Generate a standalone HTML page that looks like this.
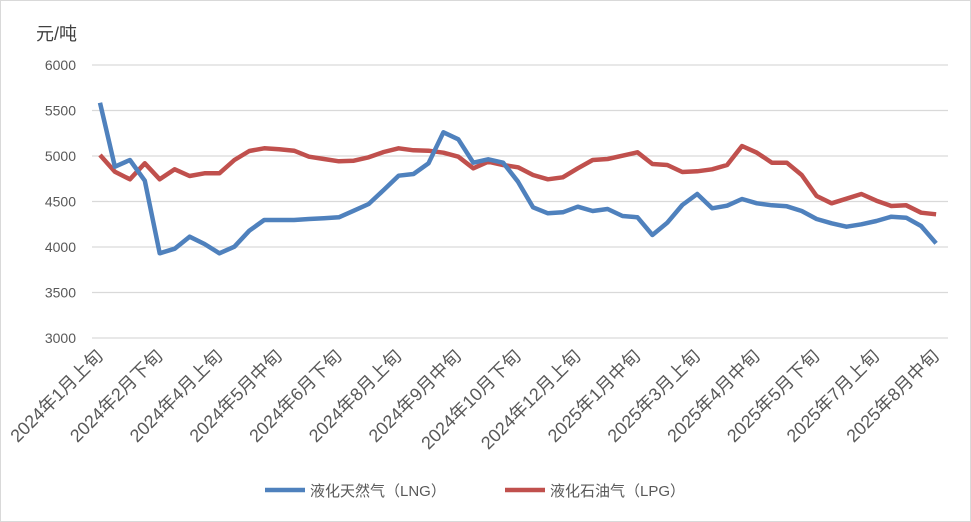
<!DOCTYPE html>
<html><head><meta charset="utf-8"><style>
body{margin:0;background:#fff}
svg{display:block;font-family:"Liberation Sans","Noto Sans CJK SC",sans-serif}
</style></head><body>
<svg width="971" height="522" viewBox="0 0 971 522">
<rect x="0.5" y="0.5" width="970" height="521" fill="#fff" stroke="#d9d9d9"/>
<text x="36" y="40" font-size="18" fill="#404040">元/吨</text>
<g stroke="#d9d9d9" stroke-width="1.3">
<line x1="92" x2="948" y1="65" y2="65"/><line x1="92" x2="948" y1="110.5" y2="110.5"/>
<line x1="92" x2="948" y1="156" y2="156"/><line x1="92" x2="948" y1="201.5" y2="201.5"/>
<line x1="92" x2="948" y1="247" y2="247"/><line x1="92" x2="948" y1="292.5" y2="292.5"/>
<line x1="92" x2="948" y1="338" y2="338"/>
</g>
<g font-size="14" fill="#595959" text-anchor="end">
<text x="76" y="70">6000</text><text x="76" y="115.5">5500</text><text x="76" y="161">5000</text>
<text x="76" y="206.5">4500</text><text x="76" y="252">4000</text><text x="76" y="297.5">3500</text>
<text x="76" y="343">3000</text>
</g>
<g font-size="18" fill="#595959" text-anchor="end" id="xl"></g>
<polyline id="lpg" fill="none" stroke="#c0504d" stroke-width="4.5" stroke-linejoin="round"/>
<polyline id="lng" fill="none" stroke="#4f81bd" stroke-width="4.5" stroke-linejoin="round"/>
<line x1="265" x2="305" y1="490" y2="490" stroke="#4f81bd" stroke-width="4.5"/>
<text x="310" y="496" font-size="15" fill="#595959">液化天然气（LNG）</text>
<line x1="505" x2="545" y1="490" y2="490" stroke="#c0504d" stroke-width="4.5"/>
<text x="550" y="496" font-size="15" fill="#595959">液化石油气（LPG）</text>
</svg>
<script>
var b=[102.7,166.7,160,180.7,253.3,248.7,236.7,244,253.3,246.7,230.7,220,220,220,219,218.3,217.3,210.7,204,190,175.7,174,163.3,132.3,139.3,162.7,159.3,162.7,181.7,207.3,213.3,212.3,206.7,211,209,216,217.3,235,222.7,205,194,208.3,205.7,199,203.3,205.3,206.3,211,219,223.3,226.7,224.3,221,216.7,217.7,226,243.3];
var r=[155,171.7,179.3,163.3,179.3,169.3,176,173.3,173.3,160,151,148.3,149.3,150.7,156.7,159,161.3,160.7,157.3,152,148.3,150.3,150.7,152.7,156.7,168.3,161.7,165,167.3,175,179.3,177.3,168.3,160,159,155.7,152.3,164,165,172,171.3,169.3,165,146,152.7,162.7,162.7,175,196,203.3,198.7,194,200.7,206,205.3,212.7,214.3];
function pts(a){return a.map(function(y,i){return (100+i*14.93).toFixed(1)+","+y}).join(" ")}
document.getElementById("lng").setAttribute("points",pts(b));
document.getElementById("lpg").setAttribute("points",pts(r));
var L=["2024年1月上旬","2024年2月下旬","2024年4月上旬","2024年5月中旬","2024年6月下旬","2024年8月上旬","2024年9月中旬","2024年10月下旬","2024年12月上旬","2025年1月中旬","2025年3月上旬","2025年4月中旬","2025年5月下旬","2025年7月上旬","2025年8月中旬"];
var g=document.getElementById("xl"),s="";
L.forEach(function(t,k){var x=100+k*4*14.93+4,y=357;s+='<text transform="translate('+x+','+y+') rotate(-45)">'+t+'</text>';});
g.innerHTML=s;
</script>
</body></html>
